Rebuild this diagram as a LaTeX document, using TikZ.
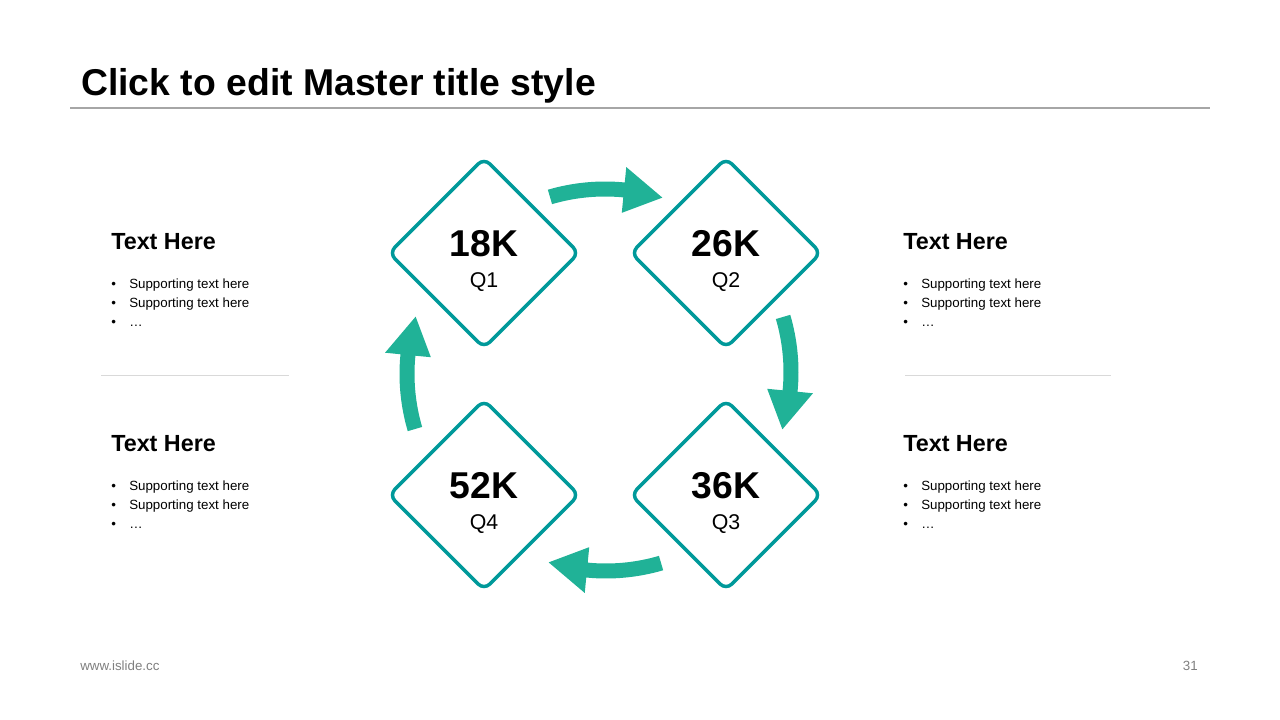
\documentclass[tikz,border=0pt]{standalone}
\usepackage{fontspec}
\setmainfont{Liberation Sans}
\usetikzlibrary{shapes.geometric}
\definecolor{tealline}{HTML}{00999A}
\definecolor{arrowc}{HTML}{20B297}
\definecolor{rulegray}{HTML}{A6A6A6}
\definecolor{sepgray}{HTML}{D9D9D9}
\definecolor{footgray}{HTML}{7F7F7F}
\newcommand\cyclearrow[5]{%
  \begin{scope}[shift={(#1,#2)}]
    \fill[arrowc] (#3:202.5) arc[start angle=#3, end angle=#4, radius=202.5]
      -- (#4:218) -- (#5:195) -- (#4:172) -- (#4:187.5)
      arc[start angle=#4, end angle=#3, radius=187.5] -- cycle;
  \end{scope}}
\newcommand\infoblock[3]{%
  \node[headtext] (#3h) at (#1,#2) {Text Here};
  \node[bultext] (#3a) at (#1,#2+38.5) {\makebox[13.5pt][l]{•}Supporting text here};
  \node[bultext] (#3b) at (#1,#2+57.5) {\makebox[13.5pt][l]{•}Supporting text here};
  \node[bultext] (#3c) at (#1,#2+76.5) {\makebox[13.5pt][l]{•}…};
}
\begin{document}
\begin{tikzpicture}[x=0.75pt,y=-0.75pt,
  qbox/.style={diamond, draw=tealline, line width=2.6pt, fill=white,
    minimum width=143.3pt, minimum height=143.3pt, inner sep=0pt,
    rounded corners=6pt},
  valtext/.style={anchor=base, inner sep=0pt, font=\fontsize{28}{30}\selectfont\bfseries},
  qtext/.style={anchor=base, inner sep=0pt, font=\fontsize{16}{18}\selectfont},
  headtext/.style={anchor=base west, inner sep=0pt, font=\fontsize{17.5}{20}\selectfont\bfseries},
  bultext/.style={anchor=base west, inner sep=0pt, font=\fontsize{10}{12}\selectfont},
  foottext/.style={inner sep=0pt, text=footgray, font=\fontsize{10}{12}\selectfont}]
\useasboundingbox (0,0) rectangle (1280,720);

% title
\node[anchor=base west, inner sep=0pt, font=\fontsize{28}{32}\selectfont\bfseries] (title) at (81,96) {Click to edit Master title style};
\coordinate (rl) at (70,108);
\coordinate (rr) at (1210,108);
\draw[rulegray, line width=0.8pt] (rl) -- (rr);

% diamonds
\node[qbox] (q1) at (484,253) {};
\node[qbox] (q2) at (726,253) {};
\node[qbox] (q3) at (726,495) {};
\node[qbox] (q4) at (484,495) {};

\node[valtext] (v1) at (484,256) {18K};
\node[qtext] (l1) at (484,287) {Q1};
\node[valtext] (v2) at (726,256) {26K};
\node[qtext] (l2) at (726,287) {Q2};
\node[valtext] (v3) at (726,498) {36K};
\node[qtext] (l3) at (726,529) {Q3};
\node[valtext] (v4) at (484,498) {52K};
\node[qtext] (l4) at (484,529) {Q4};

% cycle arrows
\cyclearrow{605}{384}{-106.4}{-84.4}{-72.9}
\cyclearrow{596}{372}{-16.4}{5.6}{17.1}
\cyclearrow{606}{376}{73.6}{95.6}{107.1}
\cyclearrow{602}{374}{163.6}{185.6}{197.1}

% side text blocks
\infoblock{111}{249.5}{tl}
\infoblock{111}{451.5}{bl}
\infoblock{903}{249.5}{tr}
\infoblock{903}{451.5}{br}

% separators
\coordinate (s1a) at (101,375);
\coordinate (s1b) at (289,375);
\coordinate (s2a) at (905,375);
\coordinate (s2b) at (1111,375);
\draw[sepgray, line width=0.75pt] (s1a) -- (s1b);
\draw[sepgray, line width=0.75pt] (s2a) -- (s2b);

% footer
\node[foottext, anchor=base west] (web) at (80,670) {www.islide.cc};
\node[foottext, anchor=base east] (pg) at (1198,670) {31};
\end{tikzpicture}
\end{document}
